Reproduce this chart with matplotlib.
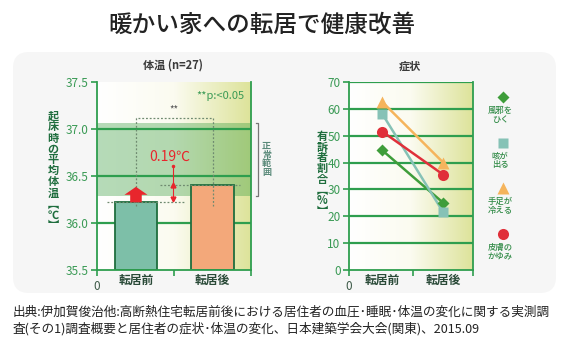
import matplotlib
matplotlib.use("Agg")
import matplotlib.pyplot as plt
import numpy as np
from matplotlib.colors import LinearSegmentedColormap
from matplotlib.patches import FancyArrow, FancyBboxPatch

plt.rcParams["font.family"] = ["Noto Sans CJK JP", "DejaVu Sans"]

# data
stages = ["転居前", "転居後"]
temp_mean = [36.22, 36.40]          # 起床時の平均体温 [℃]
normal_range = (36.29, 37.06)       # 正常範囲
temp_diff_label = "0.19℃"

symptoms = ["風邪を\nひく", "咳が\n出る", "手足が\n冷える", "皮膚の\nかゆみ"]
symptom_before = [44.5, 58.0, 62.5, 51.5]   # 有訴者割合 [%]
symptom_after = [25.0, 21.5, 40.0, 35.5]

W, H = 572, 346
fig = plt.figure(figsize=(W / 100, H / 100), dpi=100)
fig.patch.set_facecolor("white")

def px_axes(left, top, right, bottom, **kw):
    return fig.add_axes([left / W, 1 - bottom / H, (right - left) / W, (bottom - top) / H], **kw)

# grey rounded panel
bg = fig.add_axes([0, 0, 1, 1], zorder=-5)
bg.set_xlim(0, W)
bg.set_ylim(H, 0)
bg.axis("off")
bg.add_patch(FancyBboxPatch((13, 52), 543, 241, boxstyle="round,pad=0,rounding_size=16",
                            fc="#f6f6f6", ec="none"))

green = "#2e9e4e"
tick_green = "#3a9a55"
dark_green = "#1f6e3e"
grad_cmap = LinearSegmentedColormap.from_list("g", ["#ffffff", "#fbfbf0", "#dde39a"])
grad = np.linspace(0, 1, 256).reshape(1, -1)

# ---------- left: body temperature ----------
ax = px_axes(97, 82, 251, 270)
ax.set_xlim(0, 1)
ax.set_ylim(35.5, 37.5)
ax.imshow(grad, aspect="auto", extent=[0, 1, 35.5, 37.5], cmap=grad_cmap, zorder=0)
ax.axhspan(*normal_range, color="#3fa046", alpha=0.38, lw=0, zorder=1)
for y in [36.0, 36.5, 37.0]:
    ax.axhline(y, color=green, lw=1.6, zorder=2)

xpos = [0.253, 0.75]
ax.bar(xpos, [v - 35.5 for v in temp_mean], bottom=35.5, width=0.273,
       color=["#7dbfa8", "#f3a87a"], edgecolor=dark_green, lw=1.3, zorder=3)

dot = dict(color="#6f8a70", lw=0.9, ls=(0, (1.5, 1.5)), zorder=4)
ax.plot([xpos[0], xpos[0], xpos[1], xpos[1]], [36.18, 37.12, 37.12, 36.18], **dot)
ax.plot([0.065, 0.565], [temp_mean[0]] * 2, **dot)
ax.plot([0.41, 0.93], [temp_mean[1]] * 2, **dot)
ax.text(0.5, 37.15, "**", ha="center", va="bottom", fontsize=7, color="#555555", zorder=5)
ax.text(0.96, 37.35, "**p:<0.05", ha="right", va="center", fontsize=8, color=tick_green, zorder=5)

ax.add_patch(FancyArrow(xpos[0], temp_mean[0], 0, 0.165, width=0.075, head_width=0.15,
                        head_length=0.085, length_includes_head=True, color="#e8262c", lw=0, zorder=5))
ax.plot([0.494, 0.494], [temp_mean[0] + 0.03, 36.61], color="#e8262c", lw=0.8, zorder=5)
ax.plot(0.494, temp_mean[1], marker="^", ms=3.5, color="#e8262c", zorder=5)
ax.plot(0.494, temp_mean[0] + 0.04, marker="v", ms=3.5, color="#e8262c", zorder=5)
ax.plot(0.494, 36.61, marker="o", ms=1.5, color="#e8262c", zorder=5)
ax.text(0.47, 36.7, temp_diff_label, ha="center", va="center", fontsize=10, color="#e8262c", zorder=5)

for s in ["top", "bottom"]:
    ax.spines[s].set_visible(False)
for s in ["left", "right"]:
    ax.spines[s].set_color(green)
    ax.spines[s].set_linewidth(1.3)
ax.axhline(35.5, color=green, lw=1.3, zorder=6, clip_on=False)
ax.set_yticks([35.5, 36.0, 36.5, 37.0, 37.5])
ax.set_yticklabels(["35.5", "36.0", "36.5", "37.0", "37.5"])
ax.tick_params(axis="y", colors=green, labelcolor=tick_green, length=4, width=1.2,
               labelsize=8.5, pad=2, right=False)
ax.set_xticks([0, 0.5, 1])
ax.set_xticklabels(["0", "", ""])
ax.set_xticks(xpos, minor=True)
ax.set_xticklabels(stages, minor=True)
ax.tick_params(axis="x", which="major", colors=green, labelcolor="#3d5a48", length=4, width=1.2,
               labelsize=8.5, pad=3)
ax.tick_params(axis="x", which="minor", length=0, labelcolor="#2a4a38", labelsize=8.5, pad=3)
for t in ax.get_xticklabels(minor=True):
    t.set_fontweight("bold")

# normal range bracket
br = dict(color="#777777", lw=0.9, clip_on=False, transform=ax.get_yaxis_transform())
ax.plot([1.03, 1.045, 1.045, 1.03], [normal_range[1], normal_range[1], normal_range[0], normal_range[0]], **br)
ax.text(1.1, np.mean(normal_range), "正\n常\n範\n囲", transform=ax.get_yaxis_transform(),
        ha="center", va="center", fontsize=6.5, color="#5a8a7a", linespacing=0.95, fontweight="bold")

fig.text(173 / W, 1 - 65 / H, "体温 (n=27)", ha="center", va="center", fontsize=8,
         fontweight="bold", color="#3a3a3a")
fig.text(53 / W, 1 - 171 / H, "起\n床\n時\nの\n平\n均\n体\n温\n︻\n℃\n︼", ha="center", va="center",
         fontsize=8, fontweight="bold", color=dark_green, linespacing=0.8)

# ---------- right: symptoms ----------
ax2 = px_axes(349, 82, 473, 270)
ax2.set_xlim(0, 1)
ax2.set_ylim(0, 70)
ax2.imshow(grad, aspect="auto", extent=[0, 1, 0, 70], cmap=grad_cmap, zorder=0)
for y in range(10, 71, 10):
    ax2.axhline(y, color=green, lw=1.6, zorder=2)

styles = [
    dict(color="#3e9d3a", marker="D", ms=6.5),
    dict(color="#86c2b6", marker="s", ms=7),
    dict(color="#f5b45c", marker="^", ms=8.5),
    dict(color="#e0303a", marker="o", ms=8),
]
px = [0.27, 0.76]
for b, a, st in zip(symptom_before, symptom_after, styles):
    ax2.plot(px, [b, a], color=st["color"], lw=1.8, zorder=3)
    ax2.plot(px, [b, a], ls="none", marker=st["marker"], ms=st["ms"], color=st["color"],
             mec="none", zorder=4)

for s in ["top"]:
    ax2.spines[s].set_visible(False)
for s in ["left", "right", "bottom"]:
    ax2.spines[s].set_color(green)
    ax2.spines[s].set_linewidth(1.3)
ax2.set_yticks(range(0, 71, 10))
ax2.tick_params(axis="y", colors=green, labelcolor=tick_green, length=4, width=1.2,
                labelsize=8.5, pad=2)
ax2.set_xticks([0, 0.515, 1])
ax2.set_xticklabels(["0", "", ""])
ax2.set_xticks(px, minor=True)
ax2.set_xticklabels(stages, minor=True)
ax2.tick_params(axis="x", which="major", colors=green, labelcolor="#3d5a48", length=4, width=1.2,
                labelsize=8.5, pad=3)
ax2.tick_params(axis="x", which="minor", length=0, labelcolor="#2a4a38", labelsize=8.5, pad=3)
for t in ax2.get_xticklabels(minor=True):
    t.set_fontweight("bold")

fig.text(410 / W, 1 - 66 / H, "症状", ha="center", va="center", fontsize=8,
         fontweight="bold", color="#3a3a3a")
fig.text(322 / W, 1 - 174 / H, "有\n訴\n者\n割\n合\n︻\n%\n︼", ha="center", va="center",
         fontsize=8, fontweight="bold", color=dark_green, linespacing=0.78)

# legend column
lg = px_axes(480, 82, 525, 270)
lg.set_xlim(0, 1)
lg.set_ylim(270, 82)
lg.axis("off")
for i, (name, st) in enumerate(zip(symptoms, styles)):
    y0 = 97 + i * 45.5
    lg.plot(0.5, y0, marker=st["marker"], ms=st["ms"], color=st["color"], mec="none", ls="none")
    lg.text(0.45, y0 + 18, name, ha="center", va="center", fontsize=6, color="#2f8a45",
            linespacing=0.95, fontweight="medium")

# title and source
fig.text(262 / W, 1 - 25 / H, "暖かい家への転居で健康改善", ha="center", va="center",
         fontsize=17, fontweight="medium", color="#222222")
fig.text(13 / W, 1 - 306 / H,
         "出典:伊加賀俊治他:高断熱住宅転居前後における居住者の血圧･睡眠･体温の変化に関する実測調\n"
         "査(その1)調査概要と居住者の症状･体温の変化、日本建築学会大会(関東)、2015.09",
         ha="left", va="top", fontsize=9.1, color="#222222", linespacing=1.3)

fig.savefig("out.png", dpi=100)
